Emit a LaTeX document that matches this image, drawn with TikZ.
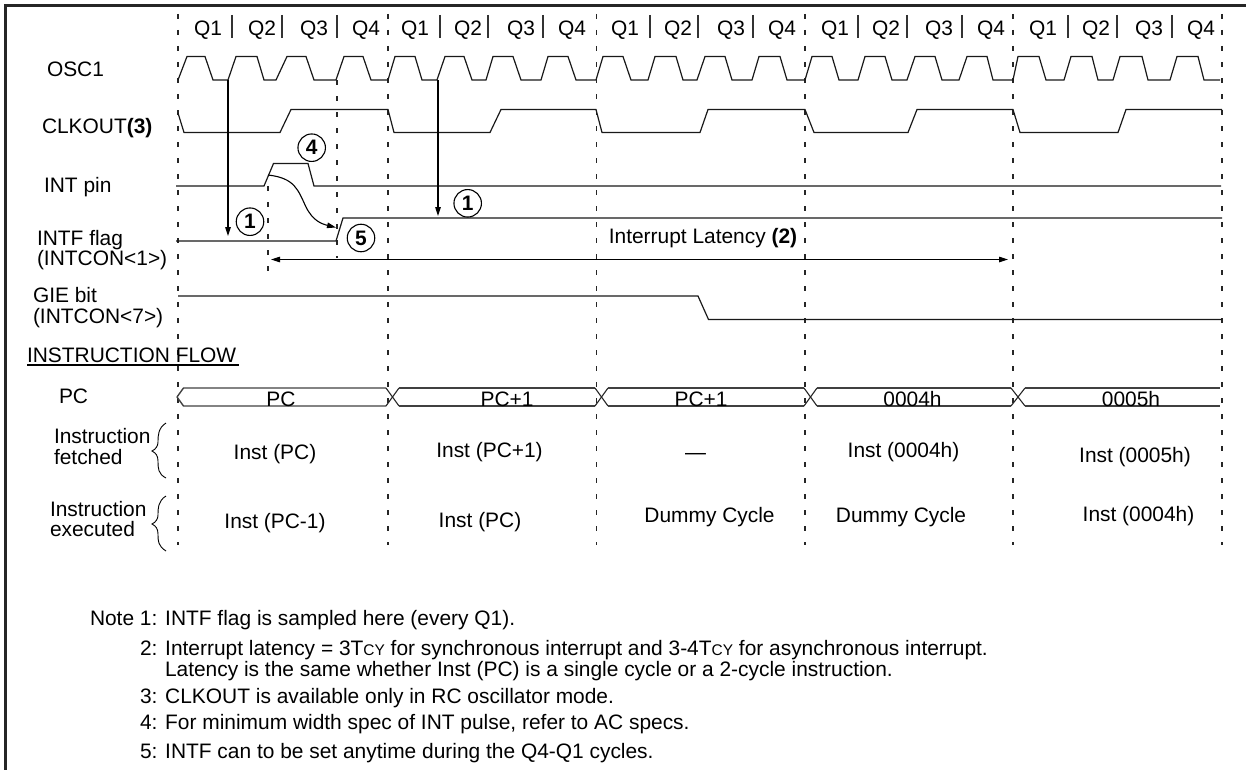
\documentclass[tikz,border=0pt]{standalone}
\usepackage{fontspec}
\setmainfont{Liberation Sans}
\usetikzlibrary{arrows.meta}
\newcommand{\cysmall}{{\fontsize{15.5}{15.5}\selectfont CY}}
\tikzset{
  wave/.style={line width=1.2bp,line join=miter,color=black!90},
  bus/.style={line width=1.4bp,color=black!75},
  crossx/.style={line width=1.1bp,color=black!85},
  guide/.style={line width=1.2bp,dash pattern=on 5bp off 11bp,color=black!85},
  sep/.style={line width=1.1bp,color=black!80},
  frame/.style={line width=2.6bp,color=black!85},
  arrowline/.style={line width=1.1bp,-{Triangle[length=9bp,width=5.5bp]}},
  lbl/.style={inner sep=0pt,outer sep=0pt,font=\fontsize{21}{24}\selectfont},
  lw/.style={lbl,anchor=base west},
  lc/.style={lbl,anchor=base},
  note/.style={inner sep=0pt,outer sep=0pt,anchor=base west,font=\fontsize{21}{24}\selectfont},
  badge/.style={draw,circle,line width=1.1bp,minimum size=27.5bp,inner sep=0pt,font=\bfseries\fontsize{21}{24}\selectfont}
}
\begin{document}
\begin{tikzpicture}[x=1bp,y=-1bp]
\useasboundingbox (0,0) rectangle (1246,770);
% frame
\draw[frame] (5.5,770) -- (5.5,5.5) -- (1246,5.5);
% guides
\draw[guide] (178,14) -- (178,545);
\draw[guide] (388,14) -- (388,545);
\draw[guide] (596.5,14) -- (596.5,545);
\draw[guide] (805,14) -- (805,545);
\draw[guide] (1013,14) -- (1013,545);
\draw[guide] (1222,14) -- (1222,545);
\draw[guide] (337,80) -- (337,258);
\draw[guide] (268,186) -- (268,282);
% Q separators
\foreach \x in {232,282,337,440,488,543,650,698,753,858,907,962,1068,1117,1172}
  \draw[sep] (\x,15) -- (\x,38);
% Q labels
\foreach \n/\x/\t in {q1/208/Q1,q2/262/Q2,q3/314/Q3,q4/366/Q4,
  q5/415/Q1,q6/468/Q2,q7/521/Q3,q8/572/Q4,
  q9/625/Q1,q10/678/Q2,q11/731/Q3,q12/782/Q4,
  q13/835/Q1,q14/886/Q2,q15/939/Q3,q16/991/Q4,
  q17/1043/Q1,q18/1096/Q2,q19/1149/Q3,q20/1201/Q4}
  \node[lc] (\n) at (\x,35.5) {\t};
% OSC1
\draw[wave] (178,80) -- (187,56.5) -- (205,56.5) -- (213,80) -- (228,80) -- (236,56.5) -- (257,56.5) -- (264,80) -- (276,80) -- (287,56.5) -- (306,56.5) -- (314,80) -- (336,80) -- (344,56.5) -- (363,56.5) -- (371,80) -- (388,80)
 -- (395,56.5) -- (415,56.5) -- (422,80) -- (437,80) -- (445,56.5) -- (464,56.5) -- (472,80) -- (486,80) -- (493,56.5) -- (513,56.5) -- (521,80) -- (541,80) -- (548,56.5) -- (568,56.5) -- (576,80) -- (596,80)
 -- (603,56.5) -- (623,56.5) -- (631,80) -- (648,80) -- (655,56.5) -- (676,56.5) -- (683,80) -- (697,80) -- (705,56.5) -- (725,56.5) -- (732,80) -- (752,80) -- (759,56.5) -- (780,56.5) -- (787,80) -- (805,80)
 -- (812,56.5) -- (832,56.5) -- (839,80) -- (858,80) -- (865,56.5) -- (885,56.5) -- (892,80) -- (907,80) -- (915,56.5) -- (935,56.5) -- (942,80) -- (959,80) -- (967,56.5) -- (987,56.5) -- (993,80) -- (1013,80)
 -- (1018,56.5) -- (1039,56.5) -- (1046,80) -- (1064,80) -- (1071,56.5) -- (1092,56.5) -- (1098,80) -- (1113,80) -- (1120,56.5) -- (1142,56.5) -- (1148,80) -- (1170,80) -- (1177,56.5) -- (1198,56.5) -- (1204,80) -- (1220,80);
% CLKOUT
\draw[wave] (178,113) -- (184,132.5) -- (280,132.5) -- (291,109.5) -- (388,109.5) -- (394,132.5) -- (490,132.5) -- (501,109.5) -- (596,109.5) -- (602,132.5) -- (700,132.5) -- (708,109.5) -- (805,109.5) -- (814,132.5) -- (908,132.5) -- (917,109.5) -- (1013,109.5) -- (1020,132.5) -- (1118,132.5) -- (1126,109.5) -- (1222,109.5);
% INT pin
\draw[wave] (176,186) -- (264,186) -- (273.5,163.5) -- (308,163.5) -- (314,186) -- (1221,186);
% INTF flag
\draw[wave] (176,241) -- (336,241) -- (343,218) -- (1222,218);
% GIE
\draw[wave] (178,296) -- (698,296) -- (708.5,319.5) -- (1222,319.5);
% PC bus
\draw[bus] (177,397) -- (183.5,388) -- (386,388);
\draw[bus] (177,397) -- (183.5,406) -- (386,406);
\draw[crossx] (386,388) -- (399,406);
\draw[crossx] (386,406) -- (399,388);
\draw[bus] (399,388) -- (595,388);
\draw[bus] (399,406) -- (595,406);
\draw[crossx] (595,388) -- (608,406);
\draw[crossx] (595,406) -- (608,388);
\draw[bus] (608,388) -- (804,388);
\draw[bus] (608,406) -- (804,406);
\draw[crossx] (804,388) -- (817,406);
\draw[crossx] (804,406) -- (817,388);
\draw[bus] (817,388) -- (1011,388);
\draw[bus] (817,406) -- (1011,406);
\draw[crossx] (1011,388) -- (1025,406);
\draw[crossx] (1011,406) -- (1025,388);
\draw[bus] (1025,388) -- (1220,388);
\draw[bus] (1025,406) -- (1220,406);
% connectors
\coordinate (s1a) at (228,80);
\coordinate (s1b) at (228,236);
\coordinate (s2a) at (438,80);
\coordinate (s2b) at (438,216);
\coordinate (inta) at (268,175);
\coordinate (intb) at (336,227.5);
\coordinate (lata) at (271,259.5);
\coordinate (latb) at (1008,259.5);
\draw[arrowline] (s1a) -- (s1b);
\draw[arrowline] (s2a) -- (s2b);
\draw[arrowline] (inta) .. controls (295,178) and (298,190) .. (306,207) .. controls (313,221) and (322,224) .. (intb);
\draw[line width=1.1bp,{Triangle[length=9bp,width=5.5bp]}-{Triangle[length=9bp,width=5.5bp]}] (lata) -- (latb);
% braces
\draw[line width=0.9bp] (166,423) .. controls (158,428) and (158,436) .. (158,442) .. controls (158,446) and (156,449) .. (152,451) .. controls (156,453) and (158,456) .. (158,461) .. controls (158,468) and (158,474) .. (166,478);
\draw[line width=0.9bp] (166,496) .. controls (158,501) and (158,508) .. (158,515) .. controls (158,519) and (156,522) .. (152,524) .. controls (156,526) and (158,529) .. (158,534) .. controls (158,541) and (158,546) .. (166,551);
% badges
\node[badge] (b1) at (250,221.7) {1};
\node[badge] (b4) at (311.7,147.7) {4};
\node[badge] (b5) at (361,238) {5};
\node[badge] (b1b) at (467.7,203.3) {1};
% row labels
\node[lw] (osc) at (47,77) {OSC1};
\node[lw] (clk) at (42,133) {CLKOUT\textbf{(3)}};
\node[lw] (intp) at (44,192) {INT pin};
\node[lw] (intf1) at (37,245) {INTF flag};
\node[lw] (intf2) at (37,265) {(INTCON<1>)};
\node[lw] (gie1) at (33,302) {GIE bit};
\node[lw] (gie2) at (33,323) {(INTCON<7>)};
\node[lw] (flow) at (27,362) {INSTRUCTION FLOW};
\draw[line width=1.1bp] (flow.base west |- 0,365) -- (238.5,365);
\node[lw] (pcl) at (59,403) {PC};
\node[lw] (fet1) at (54,443) {Instruction};
\node[lw] (fet2) at (54,464) {fetched};
\node[lw] (exe1) at (50,516) {Instruction};
\node[lw] (exe2) at (50,536) {executed};
\node[lc] (lat) at (703,243) {Interrupt Latency \textbf{(2)}};
% bus text
\node[lc] (p1) at (281,406) {PC};
\node[lc] (p2) at (507,406) {PC+1};
\node[lc] (p3) at (701,406) {PC+1};
\node[lc] (p4) at (912.5,406) {0004h};
\node[lc] (p5) at (1131,406) {0005h};
% instruction rows
\node[lc] (f1) at (275,459) {Inst (PC)};
\node[lc] (f2) at (489.5,457) {Inst (PC+1)};
\node[lc] (f3) at (695.5,459) {—};
\node[lc] (f4) at (903.5,457) {Inst (0004h)};
\node[lc] (f5) at (1135,462) {Inst (0005h)};
\node[lc] (e1) at (275,528) {Inst (PC-1)};
\node[lc] (e2) at (480,527) {Inst (PC)};
\node[lc] (e3) at (709.5,522) {Dummy Cycle};
\node[lc] (e4) at (901,522) {Dummy Cycle};
\node[lc] (e5) at (1138.5,521) {Inst (0004h)};
% notes
\node[note] (n1) at (90,625) {Note 1: INTF flag is sampled here (every Q1).};
\node[note] (n2) at (140,655) {2: Interrupt latency = 3T\cysmall{} for synchronous interrupt and 3-4T\cysmall{} for asynchronous interrupt.};
\node[note] (n2b) at (165,676) {Latency is the same whether Inst (PC) is a single cycle or a 2-cycle instruction.};
\node[note] (n3) at (140,703) {3: CLKOUT is available only in RC oscillator mode.};
\node[note] (n4) at (140,729) {4: For minimum width spec of INT pulse, refer to AC specs.};
\node[note] (n5) at (140,758) {5: INTF can to be set anytime during the Q4-Q1 cycles.};
\end{tikzpicture}
\end{document}
